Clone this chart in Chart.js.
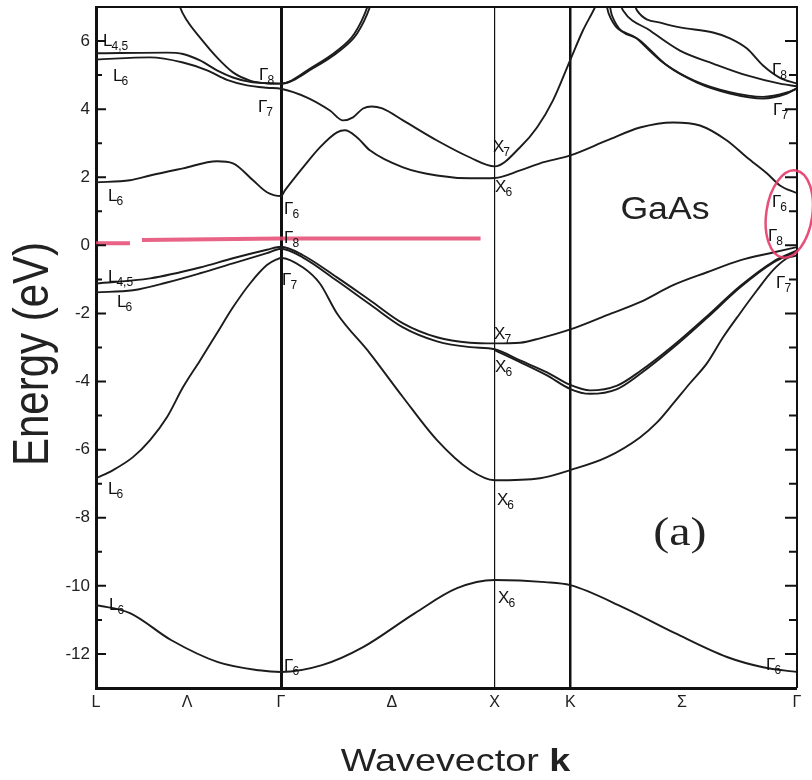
<!DOCTYPE html>
<html>
<head>
<meta charset="utf-8">
<title>GaAs band structure</title>
<script src="https://cdn.jsdelivr.net/npm/chart.js@4.4.0/dist/chart.umd.min.js"></script>
<style>
  html, body { margin: 0; padding: 0; background: #fff; }
</style>
</head>
<body>
<canvas id="bandChart" width="812" height="780"></canvas>
<script>
// k-path (units of 2pi/a): L=0, Gamma=0.866, X=1.866, K=2.220, Gamma=3.281
const xTickPos = [0, 0.426, 0.866, 1.385, 1.866, 2.220, 2.743, 3.281];
const xTickLabels = ['L', 'Λ', 'Γ', 'Δ', 'X', 'K', 'Σ', 'Γ'];
const yTicks = [-12, -10, -8, -6, -4, -2, 0, 2, 4, 6];
const yMinor = [-11, -9, -7, -5, -3, -1, 1, 3, 5];

// bands, [k, E(eV)]
const bandS = [[0,-10.56],[0.159,-10.80],[0.351,-11.59],[0.571,-12.24],[0.763,-12.48],[0.866,-12.53],[1.058,-12.33],[1.250,-11.80],[1.493,-10.80],[1.690,-10.07],[1.866,-9.83],[2.102,-9.89],[2.220,-9.98],[2.467,-10.63],[2.710,-11.39],[2.953,-12.09],[3.122,-12.39],[3.281,-12.53]];

const bandSO = [[0,-6.84],[0.080,-6.60],[0.173,-6.22],[0.253,-5.72],[0.332,-5.05],[0.407,-4.17],[0.487,-3.38],[0.566,-2.58],[0.641,-1.82],[0.721,-1.12],[0.800,-0.58],[0.847,-0.41],[0.866,-0.37],[0.969,-0.65],[1.048,-1.12],[1.128,-2.00],[1.282,-3.17],[1.437,-4.46],[1.596,-5.72],[1.751,-6.60],[1.866,-6.90],[2.078,-6.84],[2.220,-6.60],[2.392,-6.22],[2.546,-5.64],[2.626,-5.20],[2.701,-4.65],[2.780,-4.05],[2.860,-3.46],[2.935,-2.70],[3.014,-2.00],[3.094,-1.32],[3.169,-0.73],[3.234,-0.38],[3.281,-0.30]];

const bandHH = [[0,-1.12],[0.253,-0.97],[0.487,-0.65],[0.641,-0.38],[0.800,-0.13],[0.866,-0.04],[0.969,-0.29],[1.128,-0.94],[1.282,-1.61],[1.437,-2.29],[1.596,-2.70],[1.751,-2.86],[1.866,-2.88],[1.985,-2.86],[2.078,-2.73],[2.220,-2.47],[2.392,-2.05],[2.546,-1.67],[2.701,-1.17],[2.860,-0.79],[3.014,-0.44],[3.169,-0.21],[3.281,-0.05]];

const bandLH = [[0,-1.38],[0.173,-1.32],[0.332,-1.09],[0.487,-0.82],[0.641,-0.53],[0.800,-0.23],[0.866,-0.10],[0.969,-0.36],[1.128,-1.04],[1.282,-1.73],[1.437,-2.41],[1.596,-2.82],[1.751,-2.99],[1.866,-3.05],[1.985,-3.38],[2.111,-3.73],[2.220,-4.10],[2.312,-4.26],[2.439,-4.12],[2.546,-3.70],[2.701,-2.95],[2.860,-2.08],[3.014,-1.20],[3.169,-0.48],[3.281,-0.15]];

const bandLH2 = [[1.866,-3.08],[1.985,-3.43],[2.111,-3.82],[2.220,-4.22],[2.312,-4.36],[2.439,-4.22],[2.546,-3.78],[2.701,-3.01],[2.860,-2.13],[3.014,-1.24],[3.169,-0.51],[3.281,-0.18]];

const bandC1 = [[0,1.85],[0.159,1.91],[0.253,2.05],[0.407,2.26],[0.566,2.47],[0.641,2.41],[0.735,1.91],[0.800,1.56],[0.866,1.45],[0.885,1.62],[0.969,2.29],[1.048,2.88],[1.128,3.32],[1.165,3.38],[1.222,3.17],[1.282,2.79],[1.437,2.29],[1.596,2.05],[1.751,1.97],[1.866,1.98],[1.985,2.20],[2.078,2.41],[2.220,2.64],[2.392,3.08],[2.546,3.46],[2.701,3.61],[2.827,3.52],[2.953,3.08],[3.047,2.58],[3.141,2.11],[3.201,1.76],[3.281,1.53]];

const bandC2 = [[0,5.46],[0.253,5.52],[0.407,5.37],[0.520,5.14],[0.613,4.86],[0.707,4.70],[0.800,4.63],[0.866,4.60],[0.988,4.34],[1.095,3.96],[1.156,3.67],[1.203,3.76],[1.250,4.02],[1.290,4.08],[1.340,4.02],[1.437,3.67],[1.596,3.08],[1.751,2.58],[1.866,2.32],[1.985,2.88],[2.064,3.46],[2.139,4.26],[2.220,5.45],[2.279,6.31],[2.336,7.0],[2.370,7.5]];

const bandC3 = [[0,5.64],[0.332,5.66],[0.407,5.62],[0.487,5.43],[0.566,5.14],[0.641,4.93],[0.721,4.80],[0.800,4.76],[0.866,4.75],[1.016,5.20],[1.142,5.72],[1.222,6.22],[1.282,7.0],[1.300,7.4]];

const bandC4 = [[0.380,7.3],[0.393,7.0],[0.426,6.60],[0.487,6.10],[0.566,5.52],[0.641,5.08],[0.721,4.84],[0.800,4.76],[0.866,4.75],[1.004,5.20],[1.130,5.72],[1.210,6.22],[1.270,7.0],[1.288,7.4]];

const bandC5 = [[2.400,7.2],[2.415,6.75],[2.546,6.02],[2.673,5.28],[2.813,4.78],[2.967,4.46],[3.122,4.31],[3.234,4.46],[3.281,4.61]];
const bandC6 = [[2.385,7.2],[2.400,6.80],[2.530,6.08],[2.660,5.34],[2.800,4.84],[2.967,4.50],[3.122,4.36],[3.234,4.49],[3.281,4.61]];
const bandC7 = [[2.440,7.3],[2.467,6.90],[2.593,6.31],[2.733,5.72],[2.888,5.34],[3.047,4.99],[3.201,4.75],[3.281,4.67]];
const bandC8 = [[2.510,7.3],[2.532,6.90],[2.654,6.52],[2.733,6.40],[2.888,6.25],[2.967,6.08],[3.047,5.78],[3.122,5.28],[3.201,4.92],[3.281,4.75]];

// hand-drawn red mark near 0 eV
const redMark = [[0,0.06],[0.159,0.06],[0.190,null],[0.215,0.16],[0.866,0.20],[1.800,0.20]];

// point labels: letter, subscript, k, E
const bandLabels = [
  ['L','4,5',0.033,5.84], ['L','6',0.080,4.84], ['Γ','8',0.763,4.87], ['Γ','7',0.758,3.93],
  ['L','6',0.056,1.29], ['Γ','6',0.880,0.91], ['Γ','8',0.880,0.06],
  ['L','4,5',0.056,-1.09], ['L','6',0.098,-1.82], ['Γ','7',0.871,-1.17],
  ['L','6',0.056,-7.31], ['L','6',0.061,-10.71], ['Γ','6',0.880,-12.50],
  ['X','7',1.858,2.73], ['X','6',1.868,1.56], ['X','7',1.863,-2.76], ['X','6',1.868,-3.73],
  ['X','6',1.877,-7.63], ['X','6',1.882,-10.51],
  ['Γ','8',3.164,4.99], ['Γ','7',3.169,3.82], ['Γ','6',3.164,1.12], ['Γ','8',3.145,0.12],
  ['Γ','7',3.183,-1.26], ['Γ','6',3.136,-12.47]
];

const symLineWidth = [0, 0, 3, 0, 1.2, 2.5, 0, 0];
const FONT = '"Liberation Sans", Arial, sans-serif';

const bands = [bandS, bandSO, bandHH, bandLH, bandLH2, bandC1, bandC2, bandC3, bandC4, bandC5, bandC6, bandC7, bandC8];

const toXY = arr => arr.map(p => ({ x: p[0], y: p[1] }));

const datasets = bands.map(b => ({
  data: toXY(b),
  showLine: true,
  borderColor: '#1c1c1c',
  borderWidth: 1.9,
  pointRadius: 0,
  cubicInterpolationMode: 'monotone',
  fill: false
}));

datasets.push({
  data: toXY(redMark),
  showLine: true,
  borderColor: 'rgba(228, 72, 112, 0.85)',
  borderWidth: 4,
  pointRadius: 0,
  tension: 0,
  spanGaps: false
});

// ticks inside the frame, frame, labels and notes
const decor = {
  id: 'decor',
  afterDraw(chart) {
    const { ctx, chartArea: a, scales: { x, y } } = chart;
    ctx.save();
    ctx.strokeStyle = '#111';

    // frame top / right
    ctx.lineWidth = 2;
    ctx.beginPath();
    ctx.moveTo(a.left, a.top); ctx.lineTo(a.right, a.top); ctx.lineTo(a.right, a.bottom);
    ctx.stroke();

    // inward ticks
    ctx.lineWidth = 2;
    yTicks.forEach(v => {
      const py = y.getPixelForValue(v);
      ctx.beginPath();
      ctx.moveTo(a.left, py); ctx.lineTo(a.left + 10, py);
      ctx.moveTo(a.right - 12, py); ctx.lineTo(a.right, py);
      ctx.stroke();
    });
    yMinor.forEach(v => {
      const py = y.getPixelForValue(v);
      ctx.beginPath();
      ctx.moveTo(a.left, py); ctx.lineTo(a.left + 6, py);
      ctx.moveTo(a.right - 8, py); ctx.lineTo(a.right, py);
      ctx.stroke();
    });

    // point labels
    ctx.fillStyle = '#111';
    ctx.textAlign = 'left';
    ctx.textBaseline = 'alphabetic';
    bandLabels.forEach(l => {
      const px = x.getPixelForValue(l[2]);
      const py = y.getPixelForValue(l[3]);
      ctx.font = '17px ' + FONT;
      ctx.fillText(l[0], px, py);
      const w = ctx.measureText(l[0]).width;
      ctx.font = '12px ' + FONT;
      ctx.fillText(l[1], px + w - 1, py + 4);
    });

    // GaAs
    ctx.save();
    ctx.translate(x.getPixelForValue(2.663), y.getPixelForValue(1.03));
    ctx.scale(1.15, 1);
    ctx.font = '31px ' + FONT;
    ctx.textAlign = 'center';
    ctx.textBaseline = 'middle';
    ctx.fillStyle = '#222';
    ctx.fillText('GaAs', 0, 0);
    ctx.restore();

    // (a)
    ctx.save();
    ctx.translate(x.getPixelForValue(2.733), y.getPixelForValue(-8.5));
    ctx.scale(1.2, 1);
    ctx.font = '40px "Liberation Serif", "Times New Roman", serif';
    ctx.textAlign = 'center';
    ctx.textBaseline = 'middle';
    ctx.fillStyle = '#222';
    ctx.fillText('(a)', 0, 0);
    ctx.restore();

    // red ellipse around the right Gamma point
    ctx.save();
    ctx.strokeStyle = 'rgba(228, 60, 105, 0.9)';
    ctx.lineWidth = 2.5;
    ctx.beginPath();
    ctx.ellipse(x.getPixelForValue(3.245), y.getPixelForValue(0.92), 23, 44, 0.15, 0, Math.PI * 2);
    ctx.stroke();
    ctx.restore();

    // axis titles
    ctx.fillStyle = '#222';
    ctx.save();
    ctx.translate(48, 354);
    ctx.rotate(-Math.PI / 2);
    ctx.scale(1, 1.18);
    ctx.font = '42px ' + FONT;
    ctx.textAlign = 'center';
    ctx.textBaseline = 'alphabetic';
    ctx.fillText('Energy (eV)', 0, 0);
    ctx.restore();

    ctx.save();
    ctx.translate((a.left + a.right) / 2 + 9, 771);
    ctx.scale(1.18, 1);
    ctx.textBaseline = 'alphabetic';
    ctx.textAlign = 'left';
    ctx.font = '32px ' + FONT;
    const t1 = 'Wavevector ';
    const w1 = ctx.measureText(t1).width;
    ctx.font = 'bold 32px ' + FONT;
    const w2 = ctx.measureText('k').width;
    const start = -(w1 + w2) / 2;
    ctx.font = '32px ' + FONT;
    ctx.fillText(t1, start, 0);
    ctx.font = 'bold 32px ' + FONT;
    ctx.fillText('k', start + w1, 0);
    ctx.restore();

    ctx.restore();
  }
};

const ctx = document.getElementById('bandChart').getContext('2d');

let chart = new Chart(ctx, {
  type: 'scatter',
  data: { datasets: datasets },
  options: {
    responsive: false,
    animation: false,
    layout: { padding: { top: 7, right: 15, left: 0, bottom: 0 } },
    plugins: {
      legend: { display: false },
      tooltip: { enabled: false }
    },
    scales: {
      x: {
        type: 'linear',
        min: 0,
        max: 3.281,
        afterBuildTicks: s => { s.ticks = xTickPos.map(v => ({ value: v })); },
        afterFit: s => { s.height = 92; s.paddingLeft = 0; s.paddingRight = 0; },
        ticks: {
          autoSkip: false,
          maxRotation: 0,
          padding: 5,
          color: '#222',
          font: { size: 16, family: FONT },
          callback: (v, i) => xTickLabels[i]
        },
        grid: {
          drawTicks: false,
          color: '#111',
          lineWidth: c => symLineWidth[c.index] || 0
        },
        border: { color: '#111', width: 3 }
      },
      y: {
        type: 'linear',
        min: -13,
        max: 7,
        afterBuildTicks: s => { s.ticks = yTicks.map(v => ({ value: v })); },
        afterFit: s => { s.width = 96; s.paddingTop = 0; s.paddingBottom = 0; },
        ticks: {
          padding: 6,
          color: '#222',
          font: { size: 17, family: FONT }
        },
        grid: { display: false, drawTicks: false },
        border: { color: '#111', width: 3 }
      }
    }
  },
  plugins: [decor]
});
</script>
</body>
</html>
